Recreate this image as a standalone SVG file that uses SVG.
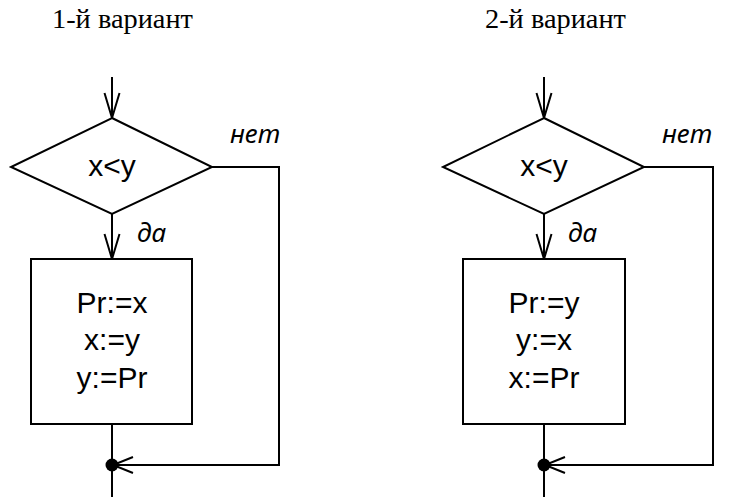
<svg xmlns="http://www.w3.org/2000/svg" width="731" height="497" viewBox="0 0 731 497">
<defs>
<style>
.ln{fill:none;stroke:#000;stroke-width:2}
.shape{fill:#fff;stroke:#000;stroke-width:2}
.title{font-family:"Liberation Serif","Times New Roman",serif;font-size:28px;fill:#000}
.lbl{font-family:"Liberation Sans",Arial,sans-serif;font-size:30px;fill:#000;text-anchor:middle}
.cond{font-family:"Liberation Sans",Arial,sans-serif;font-size:30px;fill:#000;text-anchor:middle}
.it{font-family:"Noto Sans","Liberation Sans",sans-serif;font-size:26px;font-style:italic;fill:#000}
</style>
<marker id="ah" viewBox="-26 -9 28 18" refX="0" refY="0" markerWidth="28" markerHeight="18" markerUnits="userSpaceOnUse" orient="auto">
<path d="M-25,-7.5 L0,0 L-25,7.5" fill="none" stroke="#000" stroke-width="2"/>
</marker>
<marker id="ahs" viewBox="-22 -9 24 18" refX="0" refY="0" markerWidth="24" markerHeight="18" markerUnits="userSpaceOnUse" orient="auto">
<path d="M-20,-8 L0,0 L-20,8" fill="none" stroke="#000" stroke-width="2"/>
</marker>
</defs>
<rect width="731" height="497" fill="#fff"/>
<text class="title" x="52" y="28" textLength="141" lengthAdjust="spacingAndGlyphs">1-й вариант</text>
<text class="title" x="485" y="28" textLength="141" lengthAdjust="spacingAndGlyphs">2-й вариант</text>

<g id="connectors">
<line class="ln" x1="112" y1="77" x2="112" y2="118" marker-end="url(#ah)"/>
<line class="ln" x1="112" y1="214" x2="112" y2="259" marker-end="url(#ah)"/>
<polyline class="ln" points="212,167 279,167 279,465 113,465" marker-end="url(#ahs)"/>
<line class="ln" x1="112" y1="424" x2="112" y2="497"/>
<line class="ln" x1="544" y1="77" x2="544" y2="118" marker-end="url(#ah)"/>
<line class="ln" x1="544" y1="214" x2="544" y2="259" marker-end="url(#ah)"/>
<polyline class="ln" points="644,167 713,167 713,465 545,465" marker-end="url(#ahs)"/>
<line class="ln" x1="544" y1="424" x2="544" y2="497"/>
</g>

<g id="decision1">
<polygon class="shape" points="112,118 212,167 112,214 11,167"/>
<text class="cond" x="112" y="176">x&lt;y</text>
</g>
<g id="labels1">
<text class="it" x="230" y="143">нет</text>
<text class="it" x="137" y="242">да</text>
</g>
<g id="process1">
<rect class="shape" x="31" y="259" width="161" height="165"/>
<text class="lbl" x="112" y="313">Pr:=x</text>
<text class="lbl" x="112" y="350">x:=y</text>
<text class="lbl" x="112" y="388">y:=Pr</text>
</g>
<g id="join1">
<circle cx="112" cy="465" r="6.5" fill="#000"/>
</g>

<g id="decision2">
<polygon class="shape" points="544,118 644,167 544,214 443,167"/>
<text class="cond" x="544" y="176">x&lt;y</text>
</g>
<g id="labels2">
<text class="it" x="662" y="143">нет</text>
<text class="it" x="568" y="242">да</text>
</g>
<g id="process2">
<rect class="shape" x="463" y="259" width="162" height="165"/>
<text class="lbl" x="544" y="313">Pr:=y</text>
<text class="lbl" x="544" y="350">y:=x</text>
<text class="lbl" x="544" y="388">x:=Pr</text>
</g>
<g id="join2">
<circle cx="544" cy="465" r="6.5" fill="#000"/>
</g>
</svg>
